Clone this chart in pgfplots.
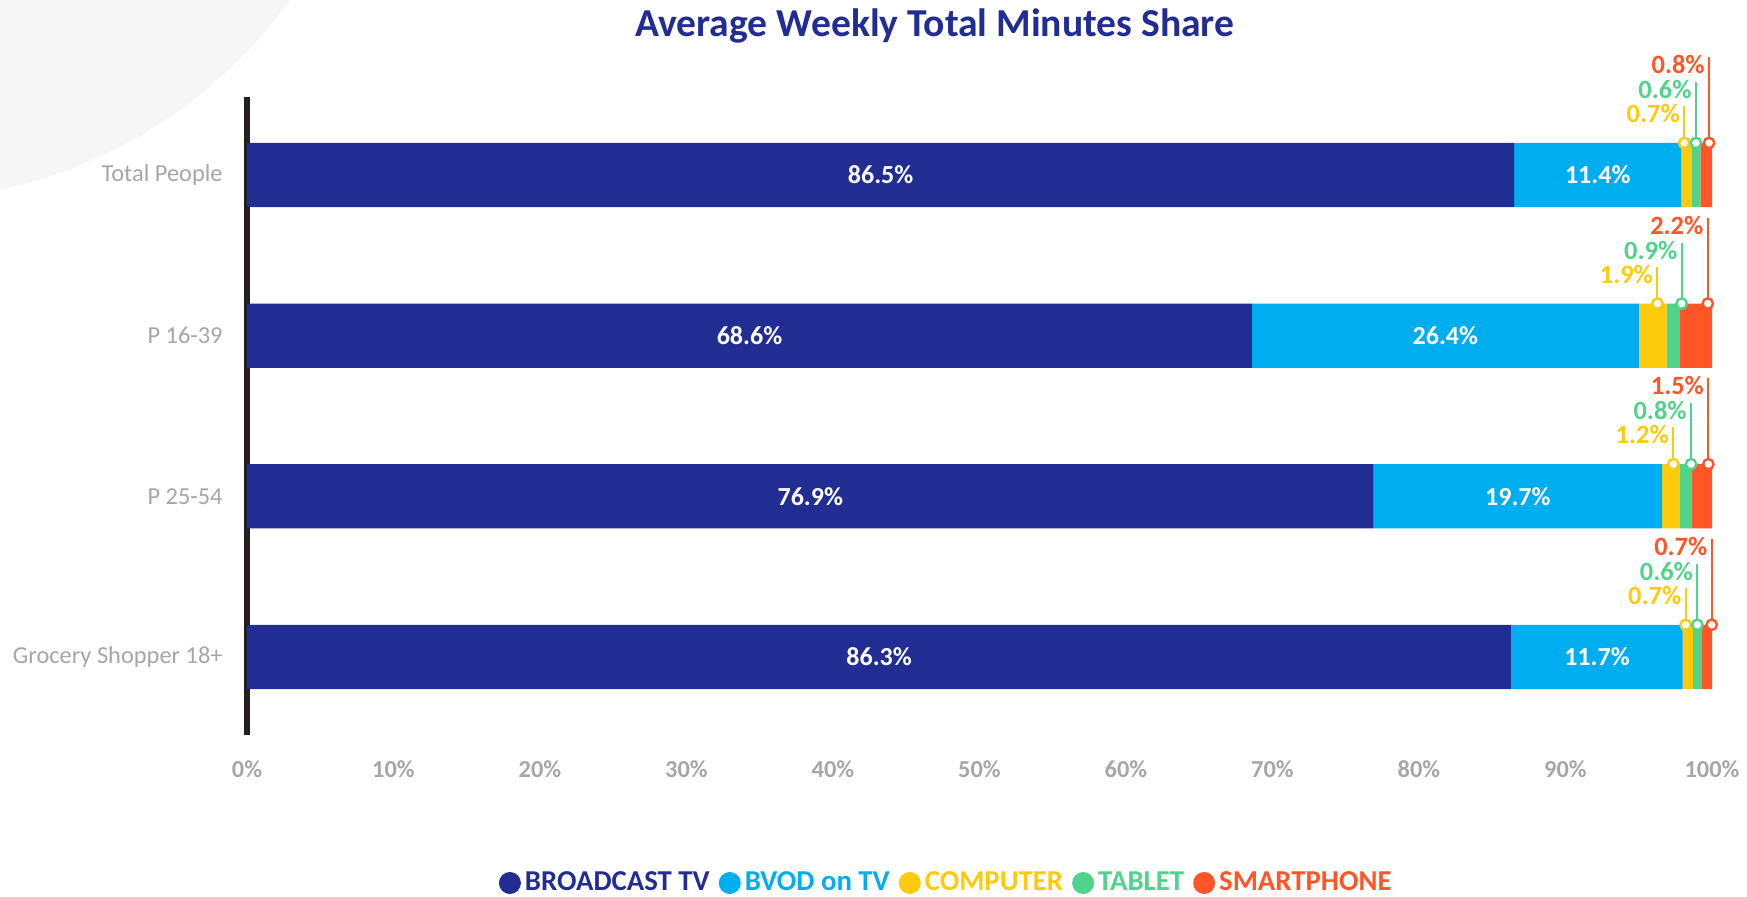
\documentclass[border=0pt]{standalone}
\usepackage{fontspec}
\setmainfont{Carlito}
\usepackage{pgfplots}
\pgfplotsset{compat=1.18}
\definecolor{btv}{HTML}{212D93}
\definecolor{bvod}{HTML}{00ADEE}
\definecolor{comp}{HTML}{FDCB0B}
\definecolor{tab}{HTML}{50D38A}
\definecolor{smart}{HTML}{FF5527}
\definecolor{lbl}{HTML}{A6A6A6}
\definecolor{axl}{HTML}{231F20}
\definecolor{bgc}{HTML}{F6F6F7}
\pgfplotsset{
  base/.style={scale only axis, width=732.5pt, height=319pt,
    xmin=0, xmax=100, ymin=-0.486, ymax=3.486, at={(0,0)}, anchor=south west},
  lc/.style={legend image code/.code={\fill[#1] (4pt,0pt) circle (5.5pt);}},
  callout/.style={only marks, mark=*, mark size=2.6pt,
    mark options={fill=white, draw=#1, line width=1.2pt},
    error bars/.cd, y dir=plus, y explicit, error mark=none,
    error bar style={#1, line width=1pt}},
  clabel/.style={draw=none, mark=none, point meta=explicit, nodes near coords,
    nodes near coords={\pgfmathprintnumber[fixed,fixed zerofill,precision=1,assume math mode=true]{\pgfplotspointmeta}\%},
    nodes near coords style={anchor=north east, inner sep=0pt, xshift=-2pt, yshift=1pt,
      text=#1, font=\bfseries\fontsize{13.2}{15}\selectfont}},
}
\begin{document}
\begin{tikzpicture}
\fill[bgc] (-173.5pt,507.5pt) circle (240pt);
\begin{axis}[base, xbar stacked, bar width=0.4,
  axis y line*=left, axis x line*=bottom,
  x axis line style={draw=none},
  y axis line style={axl, line width=3pt},
  ytick={0,1,2,3},
  yticklabels={Grocery Shopper 18+, P 25-54, P 16-39, Total People},
  xtick={0,10,...,100},
  xticklabels={0\%,10\%,20\%,30\%,40\%,50\%,60\%,70\%,80\%,90\%,100\%},
  major tick length=0pt, tick style={draw=none},
  yticklabel style={font=\fontsize{12.2}{14}\selectfont, text=lbl, anchor=east, inner sep=0pt, xshift=-12pt},
  xticklabel style={font=\bfseries\fontsize{12.2}{14}\selectfont, text=lbl, anchor=center, inner sep=0pt, yshift=-17pt},
  title={Average Weekly Total Minutes Share},
  title style={font=\bfseries\fontsize{19.8}{24}\selectfont, text=btv, at={(0.4696,1)}, anchor=center, yshift=29.5pt},
  legend style={at={(0.478,-0.232)}, anchor=center, draw=none, fill=none,
    legend columns=-1, font=\bfseries\fontsize{14.4}{16}\selectfont,
    /tikz/every even column/.append style={column sep=2.5pt}},
]
\addplot[fill=btv, draw=none, lc=btv] coordinates {(86.5,3) (68.6,2) (76.9,1) (86.3,0)};
\addplot[fill=bvod, draw=none, lc=bvod] coordinates {(11.4,3) (26.4,2) (19.7,1) (11.7,0)};
\addplot[fill=comp, draw=none, lc=comp] coordinates {(0.7,3) (1.9,2) (1.2,1) (0.7,0)};
\addplot[fill=tab, draw=none, lc=tab] coordinates {(0.6,3) (0.9,2) (0.8,1) (0.6,0)};
\addplot[fill=smart, draw=none, lc=smart] coordinates {(0.8,3) (2.2,2) (1.5,1) (0.7,0)};
\legend{\textcolor{btv}{BROADCAST TV},\textcolor{bvod}{BVOD on TV},\textcolor{comp}{COMPUTER},\textcolor{tab}{TABLET},\textcolor{smart}{SMARTPHONE}}
\end{axis}
\begin{axis}[base, hide axis, clip=false]
% in-bar labels
\addplot[draw=none, mark=none, point meta=explicit, nodes near coords={\pgfmathprintnumber[fixed,fixed zerofill,precision=1,assume math mode=true]{\pgfplotspointmeta}\%},
  nodes near coords style={anchor=center, text=white, font=\bfseries\fontsize{13}{15}\selectfont}]
  coordinates {(43.25,3) [86.5] (34.3,2) [68.6] (38.45,1) [76.9] (43.15,0) [86.3]
               (92.2,3) [11.4] (81.8,2) [26.4] (86.75,1) [19.7] (92.15,0) [11.7]};
% callout lines and circles
\addplot[callout=comp] coordinates {(98.1,3.2) +- (0,0.23) (96.27,2.2) +- (0,0.23) (97.35,1.2) +- (0,0.23) (98.2,0.2) +- (0,0.23)};
\addplot[callout=tab] coordinates {(98.9,3.2) +- (0,0.38) (97.93,2.2) +- (0,0.38) (98.57,1.2) +- (0,0.38) (99.0,0.2) +- (0,0.38)};
\addplot[callout=smart] coordinates {(99.8,3.2) +- (0,0.535) (99.71,2.2) +- (0,0.535) (99.75,1.2) +- (0,0.535) (99.98,0.2) +- (0,0.535)};
% callout labels
\addplot[clabel=comp] coordinates {(98.1,3.43) [0.7] (96.27,2.43) [1.9] (97.35,1.43) [1.2] (98.2,0.43) [0.7]};
\addplot[clabel=tab] coordinates {(98.9,3.58) [0.6] (97.93,2.58) [0.9] (98.57,1.58) [0.8] (99.0,0.58) [0.6]};
\addplot[clabel=smart] coordinates {(99.8,3.735) [0.8] (99.71,2.735) [2.2] (99.75,1.735) [1.5] (99.98,0.735) [0.7]};
\end{axis}
\pgfresetboundingbox
\useasboundingbox (-123.5pt,-81pt) rectangle (750pt,367.5pt);
\end{tikzpicture}
\end{document}
